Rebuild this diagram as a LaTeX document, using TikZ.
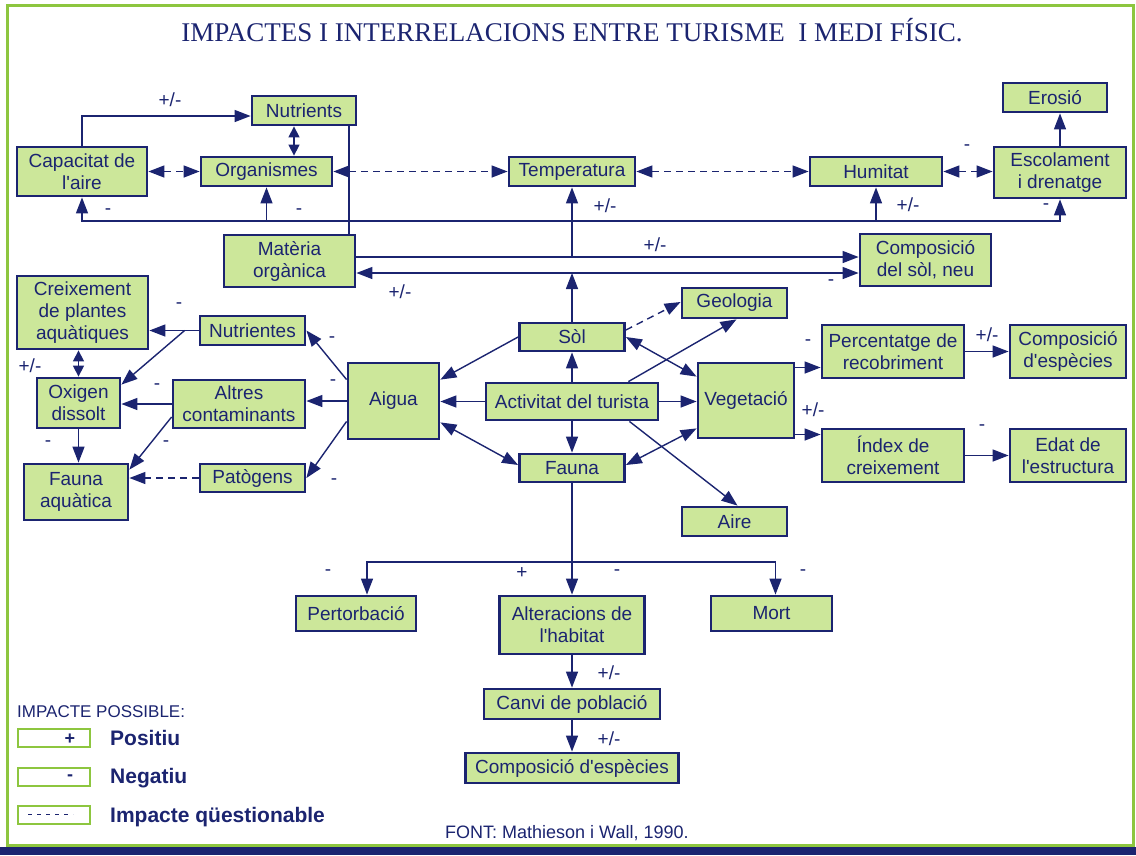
\documentclass[tikz,border=0pt]{standalone}
\usepackage{fontspec}
\setmainfont{Liberation Sans}[Ligatures=TeXOff]
\newfontfamily\titlefont{Liberation Serif}
\usetikzlibrary{arrows.meta}
\definecolor{navy}{RGB}{27,36,112}
\definecolor{boxgreen}{RGB}{204,231,154}
\definecolor{framegreen}{RGB}{141,198,63}

\begin{document}
\begin{tikzpicture}[x=1pt,y=-1pt,
  box/.style={draw=navy,fill=boxgreen,line width=2.8pt,inner sep=0pt,align=center,text=navy,
    font=\fontsize{19}{22}\selectfont},
  sz/.style 2 args={minimum width=#1pt,minimum height=#2pt},
  lbl/.style={text=navy,inner sep=0pt,font=\fontsize{19}{22}\selectfont},
  ln/.style={draw=navy,line width=1.4pt},
  arr/.style={ln,-{Triangle[length=16pt,width=12pt]}},
  dbl/.style={ln,{Triangle[length=16pt,width=12pt]}-{Triangle[length=16pt,width=12pt]}},
  dblsm/.style={ln,{Triangle[length=11pt,width=11pt]}-{Triangle[length=11pt,width=11pt]}},
  dsh/.style={dash pattern=on 7pt off 5pt},
  legbox/.style={draw=framegreen,fill=white,line width=2pt,inner sep=0pt,minimum width=72pt,minimum height=18pt}]

\useasboundingbox (0,0) rectangle (1136,855);
\fill[navy] (0,847) rectangle (1136,855);
\draw[framegreen,line width=3pt] (7,5) rectangle (1133,845);

\node[anchor=base,text=navy,font=\titlefont\fontsize{27}{27}\selectfont] (title) at (572,41)
  {IMPACTES I INTERRELACIONS ENTRE TURISME~~I MEDI FÍSIC.};

% caixes
\node[box,sz={104}{29}] (nutr) at (304,110.5) {Nutrients};
\node[box,sz={130}{49}] (capaire) at (82,171.5) {Capacitat de\\l'aire};
\node[box,sz={131}{29}] (organ) at (266.5,171.5) {Organismes};
\node[box,sz={126}{29}] (temp) at (572,171.5) {Temperatura};
\node[box,sz={132}{29}] (humit) at (876,171.5) {Humitat};
\node[box,sz={104}{29}] (erosio) at (1055,97.5) {Erosió};
\node[box,sz={132}{51}] (escol) at (1060,172.5) {Escolament\\i drenatge};
\node[box,sz={131}{52}] (materia) at (289.5,261) {Matèria\\orgànica};
\node[box,sz={131}{52}] (compsol) at (925.5,260) {Composició\\del sòl, neu};
\node[box,sz={131}{73}] (creix) at (82.5,312.5) {Creixement\\de plantes\\aquàtiques};
\node[box,sz={105}{29}] (nutrientes) at (252.5,330.5) {Nutrientes};
\node[box,sz={83}{50}] (oxigen) at (78.5,403) {Oxigen\\dissolt};
\node[box,sz={132}{48}] (altres) at (239,404) {Altres\\contaminants};
\node[box,sz={104}{56}] (faunaaq) at (76,492) {Fauna\\aquàtica};
\node[box,sz={105}{28}] (patog) at (252.5,478) {Patògens};
\node[box,sz={91}{76}] (aigua) at (393.5,401) {Aigua};
\node[box,sz={105}{28}] (sol) at (572,337) {Sòl};
\node[box,sz={105}{30}] (geol) at (734.5,303) {Geologia};
\node[box,sz={172}{37}] (activ) at (572,401.5) {Activitat del turista};
\node[box,sz={96}{75}] (veget) at (746,400.5) {Vegetació};
\node[box,sz={105}{28}] (fauna) at (572,468) {Fauna};
\node[box,sz={105}{29}] (aire) at (734.5,521.5) {Aire};
\node[box,sz={142}{53}] (percent) at (893,351.5) {Percentatge de\\recobriment};
\node[box,sz={116}{53}] (compesp) at (1068,351.5) {Composició\\d'espècies};
\node[box,sz={142}{53}] (index) at (893,455.5) {Índex de\\creixement};
\node[box,sz={116}{53}] (edat) at (1068,455.5) {Edat de\\l'estructura};
\node[box,sz={120}{35}] (pertorb) at (356,613.5) {Pertorbació};
\node[box,sz={145}{58}] (alter) at (572,625) {Alteracions de\\l'habitat};
\node[box,sz={121}{35}] (mort) at (771.5,613.5) {Mort};
\node[box,sz={176}{30}] (canvi) at (572,704) {Canvi de població};
\node[box,sz={213}{30}] (compesp2) at (572,768) {Composició d'espècies};

% part superior
\draw[arr] (capaire.north) |- ([yshift=-5.5pt]nutr.west);
\draw[dblsm] ([xshift=-10pt]nutr.south) -- ([xshift=-10pt]nutr.south |- organ.north);
\draw[dbl,dsh] (capaire.east) -- (organ.west);
\draw[dbl,dsh] (organ.east) -- (temp.west);
\draw[dbl,dsh] (temp.east) -- (humit.west);
\draw[dbl,dsh] (humit.east) -- (humit.east -| escol.west);
\draw[arr] (escol.north) -- (escol.north |- erosio.south);
\draw[ln] ([xshift=45pt]nutr.south) -- ([xshift=45pt]nutr.south |- materia.north);

\coordinate (bus) at (572,221);
\draw[arr] (bus) -| (capaire.south);
\draw[arr] (bus) -| (organ.south);
\draw[arr] (bus) -| (humit.south);
\draw[arr] (bus) -| (escol.south);

\coordinate (solbus) at (572,273);
\draw[arr] ([yshift=4pt]materia.east) -- ([yshift=4pt]materia.east -| compsol.west);
\draw[arr] ([yshift=4pt]materia.east -| temp.south) -- (temp.south);
\draw[arr] (sol.north) -- (solbus);
\draw[arr] (solbus) -- (solbus -| materia.east);
\draw[arr] (solbus) -- (solbus -| compsol.west);

% aigua
\coordinate (nsplit) at ([xshift=-14pt]nutrientes.west);
\draw[arr] (nutrientes.west) -- (nutrientes.west -| creix.east);
\draw[arr] (nsplit) -- ([yshift=-8pt]oxigen.north east);
\draw[dblsm] (oxigen.north) -- (oxigen.north |- creix.south);
\draw[arr] (altres.west) -- (altres.west -| oxigen.east);
\draw[arr] ([yshift=-13pt]altres.west) -- ([yshift=-7pt]faunaaq.north east);
\draw[arr] (oxigen.south) -- (oxigen.south |- faunaaq.north);
\draw[arr,dsh] (patog.west) -- (patog.west -| faunaaq.east);
\draw[arr] ([yshift=-18pt]aigua.north west) -- (nutrientes.east);
\draw[arr] (aigua.west) -- (aigua.west -| altres.east);
\draw[arr] ([yshift=19pt]aigua.south west) -- (patog.east);

% activitat
\draw[arr] (activ.north) -- (sol.south);
\draw[arr] (activ.south) -- (fauna.north);
\draw[arr] (activ.west) -- (activ.west -| aigua.east);
\draw[arr] (activ.east) -- (activ.east -| veget.west);
\draw[arr] ([xshift=-31pt]activ.north east) -- ([xshift=2pt]geol.south);
\draw[arr] ([xshift=-30pt]activ.south east) -- ([xshift=3pt]aire.north);
\draw[arr] (sol.west) -- ([yshift=-18pt]aigua.north east);
\draw[dbl] (sol.east) -- ([yshift=-15pt]veget.north west);
\draw[arr,dsh] ([yshift=7pt]sol.east) -- ([yshift=1pt]geol.west);
\draw[dbl] ([yshift=18pt]aigua.south east) -- ([yshift=3pt]fauna.west);
\draw[dbl] ([yshift=11pt]veget.south west) -- ([yshift=3pt]fauna.east);

% vegetacio
\draw[arr] ([yshift=-16pt]percent.west -| veget.east) -- ([yshift=-16pt]percent.west);
\draw[arr] ([yshift=21pt]index.west -| veget.east) -- ([yshift=21pt]index.west);
\draw[arr] (percent.east) -- (compesp.west);
\draw[arr] (index.east) -- (edat.west);

% fauna
\coordinate (fbus) at (572,562);
\draw[ln] (fauna.south) -- (fbus);
\draw[arr] (fbus) -- (alter.north);
\draw[arr] (fbus) -| ([xshift=11pt]pertorb.north);
\draw[arr] (fbus) -| ([xshift=4pt]mort.north);
\draw[arr] (alter.south) -- (canvi.north);
\draw[arr] (canvi.south) -- (compesp2.north);

% signes
\node[lbl] (s1) at (170,100) {+/-};
\node[lbl] (s2) at (108,212) {-};
\node[lbl] (s3) at (299,212) {-};
\node[lbl] (s4) at (605,206) {+/-};
\node[lbl] (s5) at (908,205) {+/-};
\node[lbl] (s6) at (1046,207) {-};
\node[lbl] (s7) at (967,148) {-};
\node[lbl] (s8) at (655,245) {+/-};
\node[lbl] (s9) at (400,292) {+/-};
\node[lbl] (s10) at (831,283) {-};
\node[lbl] (s11) at (179,306) {-};
\node[lbl] (s12) at (30,366) {+/-};
\node[lbl] (s13) at (157,387) {-};
\node[lbl] (s14) at (166,444) {-};
\node[lbl] (s15) at (48,444) {-};
\node[lbl] (s16) at (332,340) {-};
\node[lbl] (s17) at (333,383) {-};
\node[lbl] (s18) at (334,482) {-};
\node[lbl] (s19) at (808,343) {-};
\node[lbl] (s20) at (813,410) {+/-};
\node[lbl] (s21) at (987,335) {+/-};
\node[lbl] (s22) at (982,428) {-};
\node[lbl] (s23) at (328,573) {-};
\node[lbl] (s24) at (522,573) {+};
\node[lbl] (s25) at (617,573) {-};
\node[lbl] (s26) at (803,573) {-};
\node[lbl] (s27) at (609,673) {+/-};
\node[lbl] (s28) at (609,739) {+/-};

% llegenda
\node[lbl,anchor=base west,font=\fontsize{17}{17}\selectfont] (legtitle) at (17,717) {IMPACTE POSSIBLE:};
\node[legbox] (leg1) at (54,737.5) {};
\node[legbox] (leg2) at (54,776.5) {};
\node[legbox] (leg3) at (54,814.5) {};
\node[lbl,font=\bfseries\fontsize{18}{18}\selectfont] (plus) at (70,739) {+};
\node[lbl,font=\bfseries\fontsize{18}{18}\selectfont] (minus) at (70,778) {-};
\draw[navy,line width=0.8pt,dash pattern=on 4pt off 5pt] ([xshift=11pt]leg3.west) -- ([xshift=-18pt]leg3.east);
\node[lbl,anchor=base west,font=\bfseries\fontsize{21}{21}\selectfont] (pos) at (110,745) {Positiu};
\node[lbl,anchor=base west,font=\bfseries\fontsize{21}{21}\selectfont] (neg) at (110,783) {Negatiu};
\node[lbl,anchor=base west,font=\bfseries\fontsize{21}{21}\selectfont] (qst) at (110,822) {Impacte qüestionable};
\node[lbl,anchor=base west,font=\fontsize{18}{18}\selectfont] (font) at (445,838) {FONT: Mathieson i Wall, 1990.};
\end{tikzpicture}
\end{document}
